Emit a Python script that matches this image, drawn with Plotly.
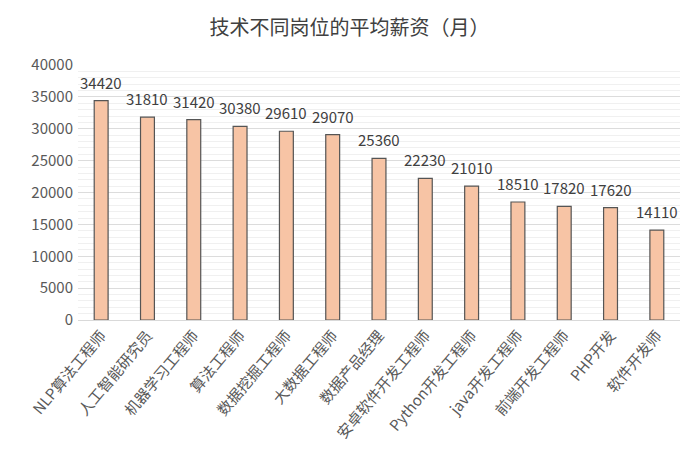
import plotly.graph_objects as go

# job titles and average monthly salary
jobs = [
    "NLP算法工程师", "人工智能研究员", "机器学习工程师", "算法工程师",
    "数据挖掘工程师", "大数据工程师", "数据产品经理", "安卓软件开发工程师",
    "Python开发工程师", "java开发工程师", "前端开发工程师", "PHP开发", "软件开发师",
]
salary = [34420, 31810, 31420, 30380, 29610, 29070, 25360,
          22230, 21010, 18510, 17820, 17620, 14110]
y_ticks = [0, 5000, 10000, 15000, 20000, 25000, 30000, 35000, 40000]

font = "Microsoft YaHei, Noto Sans CJK SC, sans-serif"

fig = go.Figure()
fig.add_trace(go.Bar(
    x=jobs,
    y=salary,
    width=0.3,
    marker=dict(color="#f7c4a5", line=dict(color="#555555", width=1.2)),
))

# value labels sit a little above each bar
for job, val in zip(jobs, salary):
    fig.add_annotation(x=job, y=val, text=str(val), showarrow=False,
                       yanchor="bottom", yshift=6,
                       font=dict(size=15, color="#404040", family=font))

fig.update_layout(
    width=697,
    height=451,
    title=dict(text="技术不同岗位的平均薪资（月）", x=0.49, xanchor="center", y=0.972,
               font=dict(size=20, color="#404040", family=font)),
    margin=dict(l=70, r=25, t=57, b=139),
    plot_bgcolor="white",
    paper_bgcolor="white",
    showlegend=False,
)
fig.update_xaxes(
    tickangle=-50,
    tickfont=dict(size=15, color="#595959", family=font),
    showline=True, linecolor="#d9d9d9",
    showgrid=False,
    automargin=False,
)
fig.update_yaxes(
    range=[0, 40000],
    tickvals=y_ticks,
    ticktext=[str(v) for v in y_ticks],
    tickfont=dict(size=15, color="#595959", family=font),
    showgrid=True, gridcolor="#dcdcdc",
    minor=dict(dtick=1000, showgrid=True, gridcolor="#f0f0f0"),
    zeroline=False,
    ticks="",
    ticklabelstandoff=4,
    automargin=False,
)

fig.write_html("out.html")
